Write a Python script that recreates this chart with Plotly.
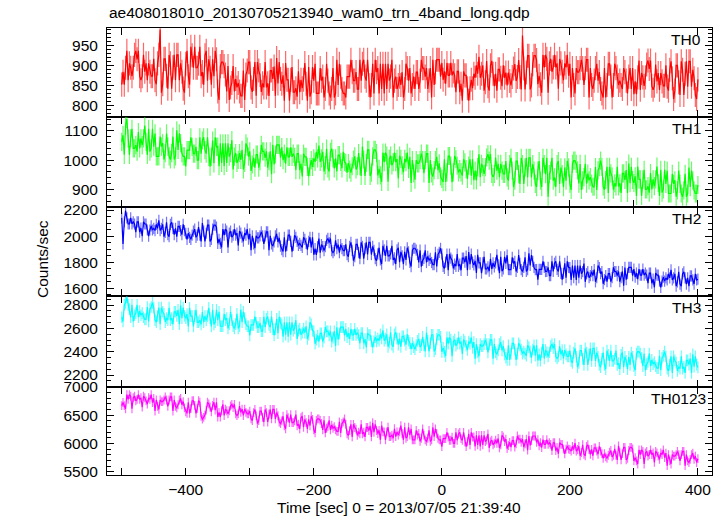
import numpy as np
import plotly.graph_objects as go

# ---------------- data (counts/sec, 2 s sampling from -500 s to 400 s) ----------------
th0 = [
    853, 885, 853, 895, 937, 864, 906, 895, 874, 895, 927, 937, 916, 937, 874, 864, 874, 927, 885, 906, 864, 906, 885, 874, 874,
    917, 864, 854, 906, 927, 990, 833, 854, 917, 917, 875, 843, 927, 906, 843, 896, 927, 864, 927, 927, 864, 906, 885, 843, 833,
    905, 937, 874, 853, 947, 926, 895, 947, 895, 895, 905, 947, 874, 884, 853, 926, 937, 863, 916, 895, 853, 916, 874, 937, 916,
    836, 815, 899, 909, 909, 899, 878, 836, 899, 815, 846, 857, 899, 836, 867, 846, 857, 836, 825, 825, 888, 815, 878, 888, 909,
    909, 846, 835, 867, 909, 825, 909, 888, 877, 835, 856, 846, 909, 846, 856, 825, 888, 888, 867, 898, 825, 919, 856, 909, 867,
    855, 876, 813, 907, 865, 865, 813, 865, 897, 834, 834, 844, 823, 886, 834, 865, 844, 865, 907, 855, 813, 897, 823, 834, 897,
    863, 905, 831, 831, 831, 894, 863, 873, 821, 842, 905, 863, 831, 821, 842, 894, 821, 831, 915, 852, 905, 873, 842, 831, 831,
    821, 873, 873, 873, 915, 884, 863, 863, 884, 842, 842, 915, 863, 905, 915, 873, 863, 915, 852, 821, 852, 905, 831, 915, 884,
    894, 831, 905, 842, 905, 831, 905, 842, 905, 863, 873, 915, 821, 863, 873, 842, 852, 873, 852, 884, 821, 842, 905, 894, 863,
    894, 831, 852, 873, 842, 884, 884, 842, 863, 915, 894, 894, 873, 894, 842, 863, 894, 821, 915, 852, 884, 915, 915, 915, 873,
    907, 865, 886, 855, 907, 876, 876, 907, 876, 886, 876, 834, 886, 886, 834, 855, 813, 886, 876, 876, 844, 813, 844, 865, 844,
    880, 870, 901, 880, 922, 870, 880, 901, 838, 859, 912, 849, 838, 901, 912, 880, 849, 880, 838, 891, 891, 870, 849, 901, 870,
    883, 851, 883, 862, 851, 872, 893, 904, 862, 872, 914, 872, 841, 975, 893, 841, 883, 925, 925, 841, 851, 904, 925, 925, 914,
    854, 875, 854, 833, 927, 896, 927, 917, 833, 906, 917, 885, 896, 927, 896, 906, 843, 917, 906, 885, 864, 906, 896, 927, 875,
    905, 821, 894, 852, 831, 894, 884, 884, 894, 915, 894, 852, 894, 915, 915, 821, 894, 852, 842, 863, 894, 905, 863, 884, 842,
    831, 821, 894, 821, 852, 905, 905, 873, 821, 852, 905, 894, 873, 852, 863, 852, 842, 894, 884, 863, 831, 873, 894, 842, 894,
    829, 861, 829, 871, 913, 840, 882, 871, 850, 871, 903, 913, 892, 913, 850, 840, 850, 903, 861, 882, 840, 882, 861, 850, 850,
    901, 848, 838, 890, 911, 869, 817, 838, 901, 901, 859, 827, 911, 890, 827, 880, 911, 848, 911, 911, 848, 890, 869, 827, 817,
    866,
]

th1 = [
    1062, 1085, 1018, 1118, 1140, 1074, 1018, 1074, 1107, 1040, 1040, 1051, 1029, 1096, 1040, 1074, 1051, 1074, 1118, 1062, 1018, 1107, 1029, 1040, 1107,
    1046, 1091, 1013, 1013, 1013, 1080, 1046, 1058, 1002, 1024, 1091, 1046, 1013, 1002, 1024, 1080, 1002, 1013, 1102, 1035, 1091, 1058, 1024, 1013, 1013,
    978, 1034, 1034, 1034, 1078, 1045, 1022, 1022, 1045, 1000, 1000, 1078, 1022, 1067, 1078, 1034, 1022, 1078, 1011, 978, 1011, 1067, 989, 1078, 1045,
    1046, 979, 1057, 990, 1057, 979, 1057, 990, 1057, 1012, 1024, 1068, 968, 1012, 1024, 990, 1001, 1024, 1001, 1035, 968, 990, 1057, 1046, 1012,
    1030, 963, 985, 1008, 974, 1019, 1019, 974, 996, 1052, 1030, 1030, 1008, 1030, 974, 996, 1030, 952, 1052, 985, 1019, 1052, 1052, 1052, 1008,
    1044, 1000, 1022, 988, 1044, 1011, 1011, 1044, 1011, 1022, 1011, 966, 1022, 1022, 966, 988, 944, 1022, 1011, 1011, 977, 944, 977, 1000, 977,
    1006, 994, 1028, 1006, 1050, 994, 1006, 1028, 961, 983, 1039, 972, 961, 1028, 1039, 1006, 972, 1006, 961, 1017, 1017, 994, 972, 1028, 994,
    990, 957, 990, 968, 957, 979, 1002, 1013, 968, 979, 1024, 979, 946, 1046, 1002, 946, 990, 1035, 1035, 946, 957, 1013, 1035, 1035, 1024,
    948, 970, 948, 926, 1026, 993, 1026, 1015, 926, 1004, 1015, 982, 993, 1026, 993, 1004, 937, 1015, 1004, 982, 959, 1004, 993, 1026, 970,
    1011, 922, 1000, 955, 933, 1000, 989, 989, 1000, 1022, 1000, 955, 1000, 1022, 1022, 922, 1000, 955, 944, 966, 1000, 1011, 966, 989, 944,
    936, 925, 1003, 925, 958, 1014, 1014, 981, 925, 958, 1014, 1003, 981, 958, 969, 958, 947, 1003, 992, 969, 936, 981, 1003, 947, 1003,
    931, 964, 931, 976, 1020, 942, 987, 976, 953, 976, 1009, 1020, 998, 1020, 953, 942, 953, 1009, 964, 987, 942, 987, 964, 953, 953,
    997, 941, 930, 986, 1008, 964, 908, 930, 997, 997, 952, 919, 1008, 986, 919, 975, 1008, 941, 1008, 1008, 941, 986, 964, 919, 908,
    964, 997, 930, 908, 1008, 986, 952, 1008, 875, 952, 964, 1008, 930, 941, 908, 986, 997, 919, 975, 952, 908, 975, 930, 997, 975,
    920, 898, 987, 998, 998, 987, 965, 920, 987, 898, 931, 942, 987, 920, 954, 931, 942, 920, 909, 909, 976, 898, 965, 976, 998,
    977, 910, 899, 932, 977, 888, 977, 955, 944, 899, 921, 910, 977, 910, 921, 888, 955, 955, 932, 966, 888, 988, 921, 977, 932,
    922, 945, 878, 978, 934, 934, 878, 934, 967, 900, 900, 911, 889, 956, 900, 934, 911, 934, 978, 922, 878, 967, 889, 900, 967,
    919, 964, 886, 886, 886, 953, 919, 931, 875, 897, 964, 919, 886, 875, 897, 953, 875, 886, 975, 908, 964, 931, 897, 886, 886,
    915,
]

th2 = [
    2140, 1940, 2109, 2195, 2140, 2093, 2093, 2140, 2093, 2109, 2093, 2031, 2109, 2109, 2031, 2062, 2000, 2109, 2093, 2093, 2047, 2000, 2047, 2078, 2047,
    2059, 2043, 2090, 2059, 2121, 2043, 2059, 2090, 1996, 2028, 2106, 2012, 1996, 2090, 2106, 2059, 2012, 2059, 1996, 2074, 2074, 2043, 2012, 2090, 2043,
    2022, 1975, 2022, 1991, 1975, 2007, 2038, 2053, 1991, 2007, 2069, 2007, 1960, 2100, 2038, 1960, 2022, 2085, 2085, 1960, 1975, 2053, 2085, 2085, 2069,
    1945, 1976, 1945, 1914, 2054, 2007, 2054, 2039, 1914, 2023, 2039, 1992, 2007, 2054, 2007, 2023, 1929, 2039, 2023, 1992, 1961, 2023, 2007, 2054, 1976,
    2018, 1893, 2002, 1940, 1908, 2002, 1986, 1986, 2002, 2033, 2002, 1940, 2002, 2033, 2033, 1893, 2002, 1940, 1924, 1955, 2002, 2018, 1955, 1986, 1924,
    1897, 1882, 1991, 1882, 1929, 2007, 2007, 1960, 1882, 1929, 2007, 1991, 1960, 1929, 1944, 1929, 1913, 1991, 1975, 1944, 1897, 1960, 1991, 1913, 1991,
    1857, 1904, 1857, 1920, 1982, 1873, 1935, 1920, 1889, 1920, 1967, 1982, 1951, 1982, 1889, 1873, 1889, 1967, 1904, 1935, 1873, 1935, 1904, 1889, 1889,
    1937, 1859, 1843, 1921, 1952, 1890, 1812, 1843, 1937, 1937, 1874, 1827, 1952, 1921, 1827, 1905, 1952, 1859, 1952, 1952, 1859, 1921, 1890, 1827, 1812,
    1864, 1911, 1817, 1786, 1926, 1895, 1848, 1926, 1848, 1848, 1864, 1926, 1817, 1833, 1786, 1895, 1911, 1801, 1879, 1848, 1786, 1879, 1817, 1911, 1879,
    1798, 1767, 1892, 1907, 1907, 1892, 1860, 1798, 1892, 1767, 1814, 1829, 1892, 1798, 1845, 1814, 1829, 1798, 1782, 1782, 1876, 1767, 1860, 1876, 1907,
    1863, 1769, 1753, 1800, 1863, 1738, 1863, 1831, 1816, 1753, 1785, 1769, 1863, 1769, 1785, 1738, 1831, 1831, 1800, 1847, 1738, 1878, 1785, 1863, 1800,
    1779, 1810, 1717, 1857, 1795, 1795, 1717, 1795, 1842, 1748, 1748, 1764, 1732, 1826, 1748, 1795, 1764, 1795, 1857, 1779, 1717, 1842, 1732, 1748, 1842,
    1791, 1854, 1744, 1744, 1744, 1838, 1791, 1807, 1729, 1760, 1854, 1791, 1744, 1729, 1760, 1838, 1729, 1744, 1869, 1776, 1854, 1807, 1760, 1744, 1744,
    1667, 1745, 1745, 1745, 1807, 1760, 1729, 1729, 1760, 1698, 1698, 1807, 1729, 1792, 1807, 1745, 1729, 1807, 1714, 1667, 1714, 1792, 1682, 1807, 1760,
    1759, 1665, 1775, 1681, 1775, 1665, 1775, 1681, 1775, 1712, 1728, 1790, 1650, 1712, 1728, 1681, 1697, 1728, 1697, 1743, 1650, 1681, 1775, 1759, 1712,
    1729, 1635, 1667, 1698, 1651, 1713, 1713, 1651, 1682, 1760, 1729, 1729, 1698, 1729, 1651, 1682, 1729, 1620, 1760, 1667, 1713, 1760, 1760, 1760, 1698,
    1748, 1686, 1717, 1670, 1748, 1701, 1701, 1748, 1701, 1717, 1701, 1639, 1717, 1717, 1639, 1670, 1608, 1717, 1701, 1701, 1655, 1608, 1655, 1686, 1655,
    1680, 1664, 1711, 1680, 1742, 1664, 1680, 1711, 1617, 1649, 1727, 1633, 1617, 1711, 1727, 1680, 1633, 1680, 1617, 1695, 1695, 1664, 1633, 1711, 1664,
    1670,
]

th3 = [
    2695, 2659, 2801, 2819, 2865, 2801, 2766, 2695, 2801, 2659, 2712, 2730, 2801, 2695, 2748, 2712, 2730, 2695, 2677, 2677, 2783, 2659, 2766, 2783, 2819,
    2777, 2671, 2653, 2706, 2777, 2635, 2777, 2742, 2724, 2653, 2688, 2671, 2777, 2671, 2688, 2635, 2742, 2742, 2706, 2759, 2635, 2795, 2688, 2777, 2706,
    2687, 2723, 2616, 2776, 2705, 2705, 2616, 2705, 2758, 2652, 2652, 2669, 2634, 2740, 2652, 2705, 2669, 2705, 2776, 2687, 2616, 2758, 2634, 2652, 2758,
    2671, 2742, 2618, 2618, 2618, 2724, 2671, 2689, 2600, 2636, 2742, 2671, 2618, 2600, 2636, 2724, 2600, 2618, 2760, 2653, 2742, 2689, 2636, 2618, 2618,
    2540, 2629, 2629, 2629, 2700, 2647, 2611, 2611, 2647, 2576, 2576, 2700, 2611, 2682, 2700, 2629, 2611, 2700, 2593, 2540, 2593, 2682, 2558, 2700, 2647,
    2634, 2528, 2652, 2546, 2652, 2528, 2652, 2546, 2652, 2581, 2599, 2670, 2510, 2581, 2599, 2546, 2563, 2599, 2563, 2617, 2510, 2546, 2652, 2634, 2581,
    2574, 2468, 2503, 2539, 2486, 2557, 2557, 2486, 2521, 2610, 2574, 2574, 2539, 2574, 2486, 2521, 2574, 2450, 2610, 2503, 2557, 2610, 2610, 2610, 2539,
    2596, 2525, 2560, 2507, 2596, 2543, 2543, 2596, 2543, 2560, 2543, 2472, 2560, 2560, 2472, 2507, 2436, 2560, 2543, 2543, 2489, 2436, 2489, 2525, 2489,
    2513, 2495, 2548, 2513, 2584, 2495, 2513, 2548, 2442, 2477, 2566, 2460, 2442, 2548, 2566, 2513, 2460, 2513, 2442, 2531, 2531, 2495, 2460, 2548, 2495,
    2474, 2421, 2474, 2439, 2421, 2456, 2492, 2510, 2439, 2456, 2527, 2456, 2403, 2563, 2492, 2403, 2474, 2545, 2545, 2403, 2421, 2510, 2545, 2545, 2527,
    2398, 2433, 2398, 2362, 2522, 2469, 2522, 2504, 2362, 2486, 2504, 2451, 2469, 2522, 2469, 2486, 2380, 2504, 2486, 2451, 2415, 2486, 2469, 2522, 2433,
    2483, 2341, 2465, 2394, 2359, 2465, 2448, 2448, 2465, 2501, 2465, 2394, 2465, 2501, 2501, 2341, 2465, 2394, 2377, 2412, 2465, 2483, 2412, 2448, 2377,
    2348, 2330, 2454, 2330, 2383, 2472, 2472, 2419, 2330, 2383, 2472, 2454, 2419, 2383, 2401, 2383, 2366, 2454, 2437, 2401, 2348, 2419, 2454, 2366, 2454,
    2324, 2377, 2324, 2395, 2466, 2342, 2413, 2395, 2359, 2395, 2448, 2466, 2430, 2466, 2359, 2342, 2359, 2448, 2377, 2413, 2342, 2413, 2377, 2359, 2359,
    2410, 2321, 2304, 2392, 2428, 2357, 2268, 2304, 2410, 2410, 2339, 2286, 2428, 2392, 2286, 2375, 2428, 2321, 2428, 2428, 2321, 2392, 2357, 2286, 2268,
    2339, 2392, 2286, 2250, 2410, 2374, 2321, 2410, 2321, 2321, 2339, 2410, 2286, 2303, 2250, 2374, 2392, 2268, 2357, 2321, 2250, 2357, 2286, 2392, 2357,
    2277, 2241, 2383, 2401, 2401, 2383, 2348, 2277, 2383, 2241, 2294, 2312, 2383, 2277, 2330, 2294, 2312, 2277, 2259, 2259, 2365, 2241, 2348, 2365, 2401,
    2360, 2254, 2236, 2289, 2360, 2218, 2360, 2325, 2307, 2236, 2271, 2254, 2360, 2254, 2271, 2218, 2325, 2325, 2289, 2342, 2218, 2378, 2271, 2360, 2289,
    2265,
]

th0123 = [
    6667, 6723, 6667, 6612, 6862, 6779, 6862, 6834, 6612, 6807, 6834, 6751, 6779, 6862, 6779, 6807, 6640, 6834, 6807, 6751, 6695, 6807, 6779, 6862, 6723,
    6795, 6573, 6768, 6656, 6601, 6768, 6740, 6740, 6768, 6823, 6768, 6656, 6768, 6823, 6823, 6573, 6768, 6656, 6628, 6684, 6768, 6795, 6684, 6740, 6628,
    6560, 6532, 6727, 6532, 6615, 6754, 6754, 6671, 6532, 6615, 6754, 6727, 6480, 6430, 6460, 6500, 6587, 6727, 6699, 6643, 6560, 6671, 6727, 6587, 6727,
    6467, 6550, 6467, 6578, 6689, 6494, 6606, 6578, 6522, 6578, 6661, 6689, 6634, 6689, 6522, 6494, 6522, 6661, 6550, 6606, 6494, 6606, 6550, 6522, 6522,
    6572, 6433, 6405, 6545, 6600, 6489, 6350, 6405, 6572, 6572, 6461, 6378, 6600, 6545, 6378, 6517, 6600, 6433, 6600, 6600, 6433, 6545, 6489, 6378, 6350,
    6397, 6480, 6313, 6258, 6508, 6453, 6369, 6508, 6369, 6369, 6397, 6508, 6313, 6341, 6258, 6453, 6480, 6286, 6425, 6369, 6258, 6425, 6313, 6480, 6425,
    6240, 6185, 6407, 6435, 6435, 6407, 6352, 6240, 6407, 6185, 6268, 6296, 6407, 6240, 6324, 6268, 6296, 6240, 6213, 6213, 6380, 6185, 6352, 6380, 6435,
    6337, 6170, 6143, 6226, 6337, 6115, 6337, 6282, 6254, 6143, 6198, 6170, 6337, 6170, 6198, 6115, 6282, 6282, 6226, 6310, 6115, 6365, 6198, 6337, 6226,
    6175, 6231, 6064, 6314, 6203, 6203, 6064, 6203, 6286, 6119, 6119, 6147, 6092, 6259, 6119, 6203, 6147, 6203, 6314, 6175, 6064, 6286, 6092, 6119, 6286,
    6147, 6258, 6064, 6064, 6064, 6231, 6147, 6175, 6036, 6091, 6258, 6147, 6064, 6036, 6091, 6231, 6036, 6064, 6286, 6119, 6258, 6175, 6091, 6064, 6064,
    5945, 6084, 6084, 6084, 6195, 6112, 6056, 6056, 6112, 6000, 6000, 6195, 6056, 6167, 6195, 6084, 6056, 6195, 6028, 5945, 6028, 6167, 5973, 6195, 6112,
    6115, 5948, 6142, 5975, 6142, 5948, 6142, 5975, 6142, 6031, 6059, 6170, 5920, 6031, 6059, 5975, 6003, 6059, 6003, 6087, 5920, 5975, 6142, 6115, 6031,
    6076, 5909, 5964, 6020, 5936, 6048, 6048, 5936, 5992, 6131, 6076, 6076, 6020, 6076, 5936, 5992, 6076, 5881, 6131, 5964, 6048, 6131, 6131, 6131, 6020,
    6067, 5956, 6012, 5928, 6067, 5984, 5984, 6067, 5984, 6012, 5984, 5872, 6012, 6012, 5872, 5928, 5817, 6012, 5984, 5984, 5900, 5817, 5900, 5956, 5900,
    5893, 5865, 5949, 5893, 6004, 5865, 5893, 5949, 5782, 5837, 5976, 5809, 5782, 5949, 5976, 5893, 5809, 5893, 5782, 5921, 5921, 5865, 5809, 5949, 5865,
    5819, 5736, 5819, 5763, 5736, 5791, 5847, 5875, 5763, 5791, 5903, 5791, 5708, 5958, 5847, 5708, 5819, 5930, 5930, 5708, 5736, 5875, 5930, 5930, 5903,
    5692, 5748, 5692, 5637, 5887, 5804, 5887, 5859, 5637, 5832, 5859, 5776, 5804, 5887, 5804, 5832, 5665, 5859, 5832, 5776, 5720, 5832, 5804, 5887, 5748,
    5830, 5608, 5803, 5691, 5636, 5803, 5775, 5775, 5803, 5858, 5803, 5691, 5803, 5858, 5858, 5608, 5803, 5691, 5663, 5719, 5803, 5830, 5719, 5775, 5663,
    5730,
]

band_names = ["TH0", "TH1", "TH2", "TH3", "TH0123"]
band_errors = [30, 31, 43, 50, 78]          # typical 1-sigma error (counts/sec)
t_first, t_last = -500, 400                 # time span of the light curves (s)

y_tickvals = [[800, 850, 900, 950], [900, 1000, 1100], [1600, 1800, 2000, 2200],
              [2200, 2400, 2600, 2800], [5500, 6000, 6500, 7000]]
x_tickvals = list(range(-500, 401, 100))
x_ticktext = ["" if v % 200 else f"{v}".replace("-", "\u2212") for v in x_tickvals]

# ---------------- styling ----------------
series = [th0, th1, th2, th3, th0123]
line_colors = ["#ff0000", "#00ff00", "#0000ff", "#00ffff", "#ff00ff"]
err_colors = ["rgba(255,0,0,0.6)", "rgba(0,255,0,0.6)", "rgba(0,0,255,0.55)",
              "rgba(0,255,255,0.6)", "rgba(255,0,255,0.6)"]
y_ranges = [[773, 994], [839, 1148], [1541, 2221], [2100, 2877], [5442, 7002]]
y_minor = [10, 20, 50, 50, 100]
domains = [[0.8015, 1.0], [0.5989, 0.8015], [0.4004, 0.5989], [0.1975, 0.4004], [0.0, 0.1975]]
label_right = [703, 703, 703, 703, 708]     # right edge of the band labels (px)

FONT = "Liberation Sans, Arial, Helvetica, sans-serif"
FS = 15.5
W, H = 724, 516
ML, MR, MT, MB = 107, 12, 28, 41
PW = W - ML - MR
PH = H - MT - MB

fig = go.Figure()
layout = dict(
    width=W, height=H,
    margin=dict(l=ML, r=MR, t=MT, b=MB, pad=0),
    paper_bgcolor="white", plot_bgcolor="white",
    showlegend=False,
    font=dict(family=FONT, size=FS, color="black"),
)

annotations = []
for i, (vals, name) in enumerate(zip(series, band_names)):
    n = len(vals)
    t = np.linspace(t_first, t_last, n)
    xa = "x" if i == 0 else f"x{i+1}"
    ya = "y" if i == 0 else f"y{i+1}"
    fig.add_trace(go.Scatter(
        x=t, y=vals, xaxis=xa, yaxis=ya, mode="lines",
        line=dict(color=line_colors[i], width=1.2),
        error_y=dict(type="constant", value=band_errors[i], color=err_colors[i],
                     thickness=1.2, width=0),
        hoverinfo="skip",
    ))
    xkey = "xaxis" if i == 0 else f"xaxis{i+1}"
    ykey = "yaxis" if i == 0 else f"yaxis{i+1}"
    layout[xkey] = dict(
        domain=[0, 1], anchor=ya, range=[-523, 422],
        tickmode="array", tickvals=x_tickvals, ticktext=x_ticktext,
        showticklabels=(i == 4), ticks="inside", ticklen=7, tickwidth=1,
        tickcolor="black", showline=True, linecolor="black", linewidth=1,
        mirror="ticks", showgrid=False, zeroline=False,
        tickfont=dict(family=FONT, size=FS, color="black"),
        **({} if i == 0 else {"matches": "x"}),
    )
    layout[ykey] = dict(
        domain=domains[i], anchor=xa, range=y_ranges[i],
        tickmode="array", tickvals=y_tickvals[i],
        ticks="inside", ticklen=7, tickwidth=1, tickcolor="black",
        minor=dict(ticks="inside", ticklen=4, dtick=y_minor[i], tick0=0,
                   tickcolor="black", tickwidth=1, showgrid=False),
        showline=True, linecolor="black", linewidth=1, mirror="ticks",
        showgrid=False, zeroline=False, ticklabelstandoff=5,
        tickfont=dict(family=FONT, size=FS, color="black"),
    )
    annotations.append(dict(
        text=name, xref="paper", yref="paper", x=(label_right[i] - ML) / PW,
        y=domains[i][1], xanchor="right", yanchor="top", yshift=-1,
        showarrow=False, font=dict(family=FONT, size=FS, color="black"),
    ))

annotations.append(dict(
    text="ae408018010_20130705213940_wam0_trn_4band_long.qdp",
    xref="paper", yref="paper", x=0, y=1 + (MT - 13) / PH,
    xanchor="left", yanchor="middle", showarrow=False,
    font=dict(family=FONT, size=FS, color="black"),
))
annotations.append(dict(
    text="Time [sec] 0 = 2013/07/05 21:39:40",
    xref="paper", yref="paper", x=(399 - ML) / PW, y=-(507 - (H - MB)) / PH,
    xanchor="center", yanchor="middle", showarrow=False,
    font=dict(family=FONT, size=FS, color="black"),
))
annotations.append(dict(
    text="Counts/sec", textangle=-90,
    xref="paper", yref="paper", x=(42 - ML) / PW, y=((H - MB) - 259) / PH,
    xanchor="center", yanchor="middle", showarrow=False,
    font=dict(family=FONT, size=FS, color="black"),
))
layout["annotations"] = annotations
fig.update_layout(**layout)
fig.write_html("out.html", config={"displayModeBar": False},
               post_script="document.body.style.margin='0';")
